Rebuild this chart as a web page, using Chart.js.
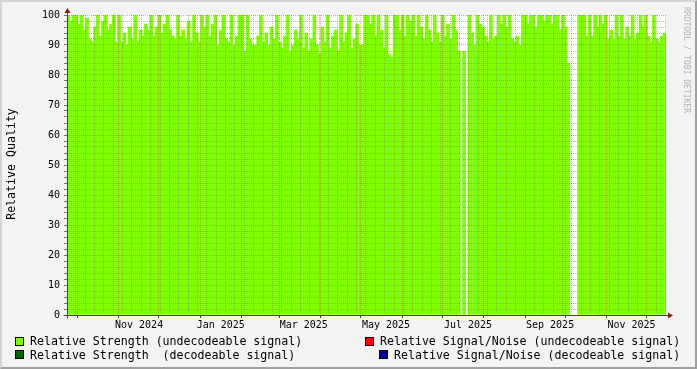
<!doctype html>
<html lang="en">
<head>
<meta charset="utf-8">
<title>Relative Quality</title>
<script src="https://cdn.jsdelivr.net/npm/chart.js"></script>
<style>
  body { margin: 0; background: #f3f3f3; }
  #wrap { position: relative; width: 697px; height: 369px; background: #f3f3f3; font-family: 'DejaVu Sans Mono', monospace; overflow: hidden; }
  #chart { position: absolute; left: 0; top: 0; }
  #frame { position: absolute; left: 0; top: 0; width: 697px; height: 369px; box-sizing: border-box;
           border-style: solid; border-width: 2px; border-color: #d4d4d4 #a0a0a0 #a0a0a0 #d4d4d4; pointer-events: none; }
  .txt { position: absolute; white-space: pre; color: #000; font-size: 11.6px; line-height: 12px; }
  .sw { position: absolute; width: 7px; height: 7px; border: 1px solid #000; }
  #ytitle { left: -45px; top: 157px; width: 112px; height: 14px; line-height: 14px; text-align: center; transform: rotate(-90deg); }
  #mark { left: 631px; top: 55px; width: 110px; height: 10px; line-height: 10px; font-size: 8px; color: #b4b4b4; text-align: center; transform: rotate(90deg); }
</style>
</head>
<body>
<div id="wrap">
  <canvas id="chart" width="697" height="369"></canvas>
  <div class="txt" id="ytitle">Relative Quality</div>
  <div class="txt" id="mark">RRDTOOL / TOBI OETIKER</div>

  <div class="sw" style="left:15px;top:337px;background:#80ff00"></div>
  <div class="txt" style="left:30px;top:335px">Relative Strength (undecodeable signal)</div>
  <div class="sw" style="left:365px;top:337px;background:#ff0000"></div>
  <div class="txt" style="left:380px;top:335px">Relative Signal/Noise (undecodeable signal)</div>

  <div class="sw" style="left:15px;top:350px;background:#006600"></div>
  <div class="txt" style="left:30px;top:348.5px">Relative Strength  (decodeable signal)</div>
  <div class="sw" style="left:379px;top:350px;background:#000099"></div>
  <div class="txt" style="left:394px;top:348.5px">Relative Signal/Noise (decodeable signal)</div>

  <div id="frame"></div>
</div>

<script>
// x axis is in days after Mon 23 Sep 2024, graph covers 64 weeks
const startDay = 0.4;
const endDay = 448.4;
const binDays = 2;

// first day of each month inside the range (major grid)
const monthStarts = [8, 39, 69, 100, 131, 159, 190, 220, 251, 281, 312, 343, 373, 404, 434];
// where rrdtool put the month labels
const labelDays = [54.3, 115.4, 177.5, 239, 300.3, 361.7, 422.6];
const labelText = ['Nov 2024', 'Jan 2025', 'Mar 2025', 'May 2025', 'Jul 2025', 'Sep 2025', 'Nov 2025'];

// relative strength (undecodeable signal), one value per 2 days, null = no data
const strength = [
  100, 98, 100, 100, 97, 100, 95, 99, 92, 91,
  96, 100, 93, 98, 100, 95, 97, 100, 91, 100,
  91, 94, 90, 96, 92, 100, 91, 95, 93, 97,
  95, 100, 93, 96, 100, 94, 97, 100, 95, 93,
  92, 100, 93, 95, 92, 98, 91, 100, 94, 91,
  100, 96, 100, 93, 97, 100, 90, 95, 100, 92,
  91, 100, 90, 93, 100, 100, 88, 100, 92, 90,
  90, 93, 100, 91, 94, 90, 96, 92, 100, 91,
  89, 93, 100, 88, 90, 95, 92, 100, 89, 94,
  88, 92, 100, 90, 87, 96, 91, 100, 89, 93,
  95, 88, 100, 91, 94, 100, 89, 92, 97, 90,
  90, 100, 100, 97, 100, 93, 100, 95, 89, 100,
  87, 86, 100, 100, 95, 100, 93, 100, 98, 100,
  93, 100, 96, 92, 100, 95, 91, 100, 94, 91,
  100, 93, 97, 92, 100, 95, 88, null, 88, null,
  100, 94, 90, 100, 97, 96, 93, 91, 100, 92,
  93, 100, 97, 100, 96, 100, 92, 91, 93, 90,
  100, 100, 97, 100, 100, 96, 100, 100, 98, 100,
  100, 97, 100, 100, 95, 100, 96, 84, null, null,
  null, 100, 100, 100, 93, 100, 93, 100, 96, 100,
  97, 100, 92, 95, 92, 100, 93, 100, 92, 96,
  93, 100, 92, 94, 100, 96, 100, 93, 91, 100,
  92, 91, 93, 94
];

const MAJOR = 'rgba(224,80,80,0.55)';
const MINOR = 'rgba(130,130,130,0.55)';
const AXIS = '#404050';
const ARROW = '#8b1a1a';

// kinds of x ticks: week lines, month lines, label spots
const xKind = {};
for (let d = 7; d <= endDay; d += 7) xKind[d] = 'week';
monthStarts.forEach(d => xKind[d] = 'month');
labelDays.forEach((d, i) => xKind[d] = 'label:' + labelText[i]);
const xTickValues = Object.keys(xKind).map(Number).sort((a, b) => a - b);

const bgPlugin = {
  id: 'canvasBg',
  beforeDraw(chart) {
    const a = chart.chartArea, c = chart.ctx;
    c.save();
    c.fillStyle = '#ffffff';
    c.fillRect(a.left, a.top, a.right - a.left, a.bottom - a.top);
    c.restore();
  }
};

const axisPlugin = {
  id: 'rrdAxes',
  afterDraw(chart) {
    const a = chart.chartArea, c = chart.ctx;
    const x0 = Math.round(a.left) + 0.5, y0 = Math.round(a.bottom) + 0.5;
    c.save();
    c.strokeStyle = AXIS;
    c.lineWidth = 1;
    c.beginPath();
    c.moveTo(x0, y0 + 3); c.lineTo(x0, a.top - 3);
    c.moveTo(x0 - 4, y0); c.lineTo(a.right + 3, y0);
    c.stroke();
    c.fillStyle = ARROW;
    c.beginPath();
    c.moveTo(x0 - 3, a.top - 2); c.lineTo(x0 + 3, a.top - 2); c.lineTo(x0, a.top - 7);
    c.closePath(); c.fill();
    c.beginPath();
    c.moveTo(a.right + 2, y0 - 3); c.lineTo(a.right + 2, y0 + 3); c.lineTo(a.right + 7, y0);
    c.closePath(); c.fill();
    c.restore();
  }
};

Chart.defaults.font.family = "'DejaVu Sans Mono', monospace";
Chart.defaults.font.size = 10;
Chart.defaults.color = '#000';

new Chart(document.getElementById('chart'), {
  type: 'bar',
  data: {
    datasets: [{
      label: 'Relative Strength (undecodeable signal)',
      data: strength.map((v, i) => ({ x: startDay + binDays * i + binDays / 2, y: v })),
      backgroundColor: '#80ff00',
      borderWidth: 0,
      barThickness: 3
    }]
  },
  options: {
    responsive: false,
    animation: false,
    events: [],
    layout: { padding: { left: 0, top: 15, right: 31, bottom: 0 } },
    plugins: { legend: { display: false }, tooltip: { enabled: false } },
    scales: {
      x: {
        type: 'linear',
        min: startDay,
        max: endDay,
        offset: false,
        afterBuildTicks: s => { s.ticks = xTickValues.map(v => ({ value: v })); },
        afterFit: s => { s.height = 54; },
        border: { display: false, dash: [1, 1] },
        grid: {
          z: 1,
          offset: false,
          drawTicks: true,
          tickLength: 3,
          color: ctx => {
            const k = xKind[ctx.tick.value] || '';
            return k === 'month' ? MAJOR : k === 'week' ? MINOR : 'rgba(0,0,0,0)';
          },
          tickColor: ctx => xKind[ctx.tick.value] === 'month' ? AXIS : 'rgba(0,0,0,0)'
        },
        ticks: {
          autoSkip: false,
          maxRotation: 0,
          minRotation: 0,
          padding: 1,
          callback: v => {
            const k = xKind[v] || '';
            return k.startsWith('label:') ? k.slice(6) : '';
          }
        }
      },
      y: {
        min: 0,
        max: 100,
        afterBuildTicks: s => {
          const t = [];
          for (let v = 0; v <= 100; v += 2) t.push({ value: v });
          s.ticks = t;
        },
        afterFit: s => { s.width = 67; },
        border: { display: false, dash: [1, 1] },
        grid: {
          z: 1,
          drawTicks: true,
          tickLength: 3,
          color: ctx => {
            const v = ctx.tick.value;
            return v === 0 ? 'rgba(0,0,0,0)' : v % 10 === 0 ? MAJOR : MINOR;
          },
          tickColor: 'rgba(64,64,80,0.7)'
        },
        ticks: {
          autoSkip: false,
          padding: 4,
          callback: v => (v % 10 === 0 ? String(v) : '')
        }
      }
    }
  },
  plugins: [bgPlugin, axisPlugin]
});
</script>
</body>
</html>
